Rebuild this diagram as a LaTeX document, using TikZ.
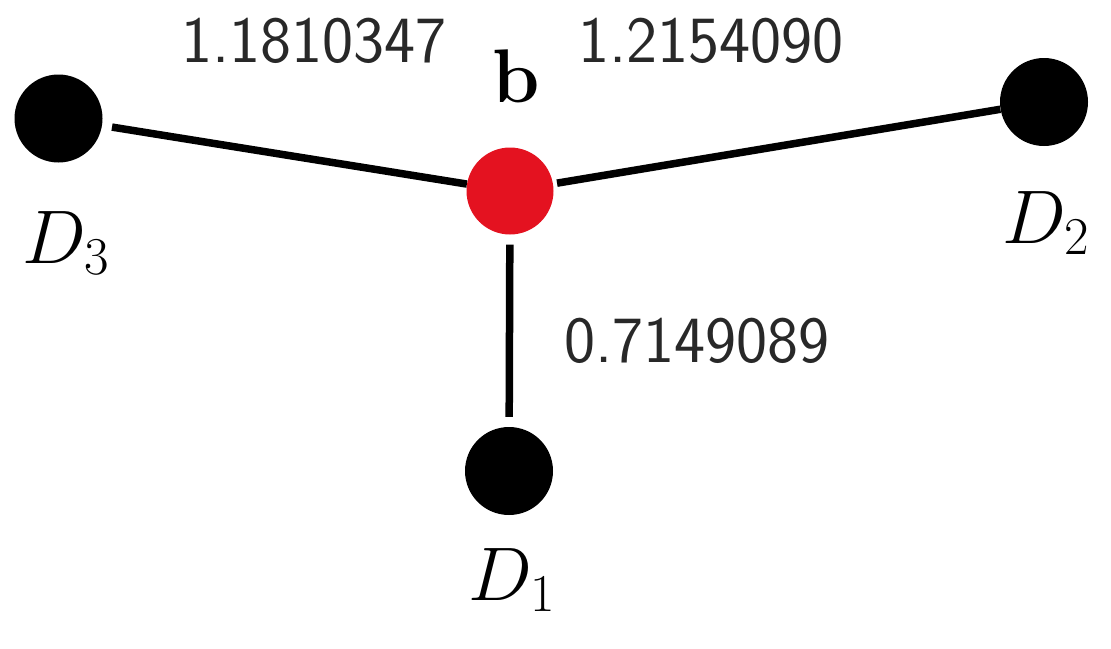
\RequirePackage{fix-cm}
\documentclass[tikz,border=0pt]{standalone}
\definecolor{dotred}{RGB}{228,18,32}
\definecolor{numgray}{RGB}{40,40,40}
\begin{document}
\begin{tikzpicture}[x=1pt,y=-1pt,
  dot/.style={circle,fill=black,minimum size=88pt,inner sep=0pt},
  reddot/.style={circle,fill=dotred,minimum size=87pt,inner sep=0pt},
  edge/.style={line width=7.5pt},
  num/.style={font=\fontsize{66}{74}\selectfont\sffamily,text=numgray,inner sep=0pt,anchor=base},
  lbl/.style={font=\fontsize{76}{84}\selectfont,inner sep=0pt,anchor=base}]
\useasboundingbox (0,0) rectangle (1111,648);
\node[dot] (D3) at (58.5,118.5) {};
\node[dot] (D2) at (1044,102) {};
\node[dot] (D1) at (509,471) {};
\node[reddot] (b) at (510,191) {};
\draw[edge,shorten <=10pt] (D3) -- (b);
\draw[edge,shorten <=4pt] (b) -- (D2);
\draw[edge,shorten <=10pt,shorten >=10pt] (b) -- (D1);
\node[lbl] (lD3) at (66,263) {$D_3$};
\node[lbl] (lD2) at (1046,243) {$D_2$};
\node[lbl] (lD1) at (512,600) {$D_1$};
\node[lbl] (lb) at (516,102) {$\mathbf{b}$};
\node[num] (n1) at (314,62) {1.1810347};
\node[num] (n2) at (711,62) {1.2154090};
\node[num] (n3) at (697,362) {0.7149089};
\end{tikzpicture}
\end{document}
